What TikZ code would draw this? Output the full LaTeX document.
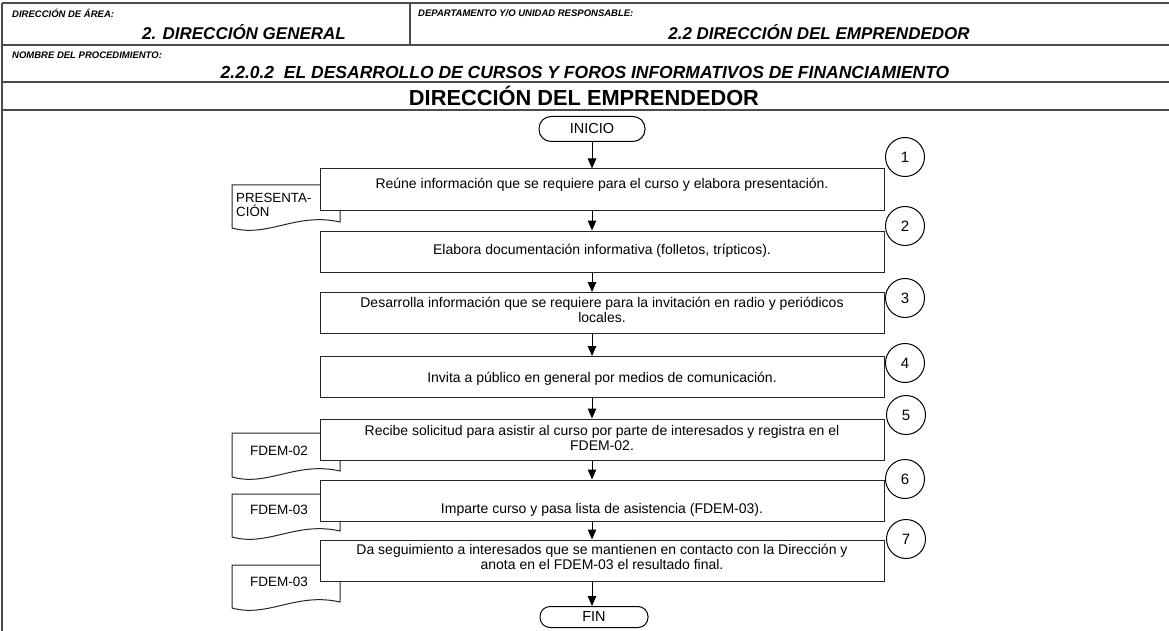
\documentclass[tikz,border=0pt]{standalone}
\usepackage{fontspec}
\setmainfont{Liberation Sans}
\usetikzlibrary{arrows.meta}
\begin{document}
\begin{tikzpicture}[x=1pt,y=-1pt,
  frame/.style={line width=1.3pt,draw=black!70},
  stepbox/.style={draw=black!85,line width=1pt,fill=white,rectangle,minimum width=564pt,minimum height=41pt,inner sep=0pt},
  txt/.style={font=\fontsize{14}{15.5}\selectfont,align=center,inner sep=0pt},
  term/.style={draw=black,line width=1pt,fill=white,rounded corners=12pt,minimum width=106pt,minimum height=25pt,inner sep=0pt,font=\fontsize{14.5}{16}\selectfont},
  numc/.style={draw=black,line width=1pt,circle,minimum size=39pt,inner sep=0pt,font=\fontsize{15}{17}\selectfont},
  docs/.style={draw=black!85,line width=1pt,fill=white},
  doctxt/.style={font=\fontsize{13.5}{14.5}\selectfont,inner sep=0pt},
  arr/.style={line width=1pt,-{Triangle[length=10pt,width=8.5pt]}},
  hsmall/.style={font=\fontsize{9.5}{11}\selectfont\bfseries\itshape,inner sep=0pt,anchor=west},
  hbig/.style={font=\fontsize{17}{19}\selectfont\bfseries\itshape,inner sep=0pt}
]
\useasboundingbox (0,0) rectangle (1169,631);
% header frame
\draw[frame] (2,3) -- (1169,3);
\draw[frame] (2,45) -- (1169,45);
\draw[frame] (2,82) -- (1169,82);
\draw[frame] (2,110) -- (1169,110);
\draw[frame] (410,3) -- (410,45);
\draw[frame] (2,3) -- (2,631);
\node[hsmall] (h1) at (12,13) {DIRECCIÓN DE ÁREA:};
\node[hbig] (h2) at (244,32) {2. DIRECCIÓN GENERAL};
\node[hsmall] (h3) at (418,13) {DEPARTAMENTO Y/O UNIDAD RESPONSABLE:};
\node[hbig] (h4) at (819,32) {2.2 DIRECCIÓN DEL EMPRENDEDOR};
\node[hsmall] (h5) at (12,55) {NOMBRE DEL PROCEDIMIENTO:};
\node[hbig,font=\fontsize{17.5}{19}\selectfont\bfseries\itshape] (h6) at (585,72) {2.2.0.2\ \ EL DESARROLLO DE CURSOS Y FOROS INFORMATIVOS DE FINANCIAMIENTO};
\node[font=\fontsize{21.8}{23}\selectfont\bfseries,inner sep=0pt] (h7) at (584,96) {DIRECCIÓN DEL EMPRENDEDOR};
% documents (behind boxes)
\draw[docs] (232,185) -- (340,185) -- (340,222) .. controls (296,212) and (268,238) .. (232,228) -- cycle;
\draw[docs] (232,433) -- (340,433) -- (340,471) .. controls (296,461) and (268,487) .. (232,477) -- cycle;
\draw[docs] (232,494) -- (340,494) -- (340,531) .. controls (296,521) and (268,547) .. (232,537) -- cycle;
\draw[docs] (232,565) -- (340,565) -- (340,602) .. controls (296,592) and (268,618) .. (232,608) -- cycle;
\node[doctxt,font=\fontsize{13.3}{14.5}\selectfont,align=left,anchor=west] (d1) at (236,205) {PRESENTA-\\CIÓN};
\node[doctxt] (d2) at (279,451) {FDEM-02};
\node[doctxt] (d3) at (279,510) {FDEM-03};
\node[doctxt] (d4) at (279,582) {FDEM-03};
% terminals
\node[term] (ini) at (592,129) {INICIO};
\node[term,minimum height=21pt,minimum width=108pt,rounded corners=10pt] (fin) at (594,617) {FIN};
% boxes
\node[stepbox] (b1) at (602,189.5) {};
\node[stepbox] (b2) at (602,251.5) {};
\node[stepbox] (b3) at (602,313) {};
\node[stepbox] (b4) at (602,377) {};
\node[stepbox] (b5) at (602,439.5) {};
\node[stepbox] (b6) at (602,500.5) {};
\node[stepbox] (b7) at (602,560.5) {};
\node[txt] (t1) at (602,185) {Reúne información que se requiere para el curso y elabora presentación.};
\node[txt] (t2) at (602,251) {Elabora documentación informativa (folletos, trípticos).};
\node[txt] (t3) at (602,310) {Desarrolla información que se requiere para la invitación en radio y periódicos\\locales.};
\node[txt] (t4) at (602,379) {Invita a público en general por medios de comunicación.};
\node[txt] (t5) at (602,438) {Recibe solicitud para asistir al curso por parte de interesados y registra en el\\FDEM-02.};
\node[txt] (t6) at (602,510) {Imparte curso y pasa lista de asistencia (FDEM-03).};
\node[txt] (t7) at (602,557) {Da seguimiento a interesados que se mantienen en contacto con la Dirección y\\anota en el FDEM-03 el resultado final.};
% number circles
\node[numc] (c1) at (905,157) {1};
\node[numc] (c2) at (905,226) {2};
\node[numc] (c3) at (905,298) {3};
\node[numc] (c4) at (905,363) {4};
\node[numc] (c5) at (906,415) {5};
\node[numc] (c6) at (905,479) {6};
\node[numc] (c7) at (906,539) {7};
% arrows
\draw[arr] (ini.south) -- (ini.south |- b1.north);
\draw[arr] (b1.south -| ini.south) -- (b2.north -| ini.south);
\draw[arr] (b2.south -| ini.south) -- (b3.north -| ini.south);
\draw[arr] (b3.south -| ini.south) -- (b4.north -| ini.south);
\draw[arr] (b4.south -| ini.south) -- (b5.north -| ini.south);
\draw[arr] (b5.south -| ini.south) -- (b6.north -| ini.south);
\draw[arr] (b6.south -| ini.south) -- (b7.north -| ini.south);
\draw[arr] (b7.south -| ini.south) -- (fin.north -| ini.south);
\end{tikzpicture}
\end{document}
